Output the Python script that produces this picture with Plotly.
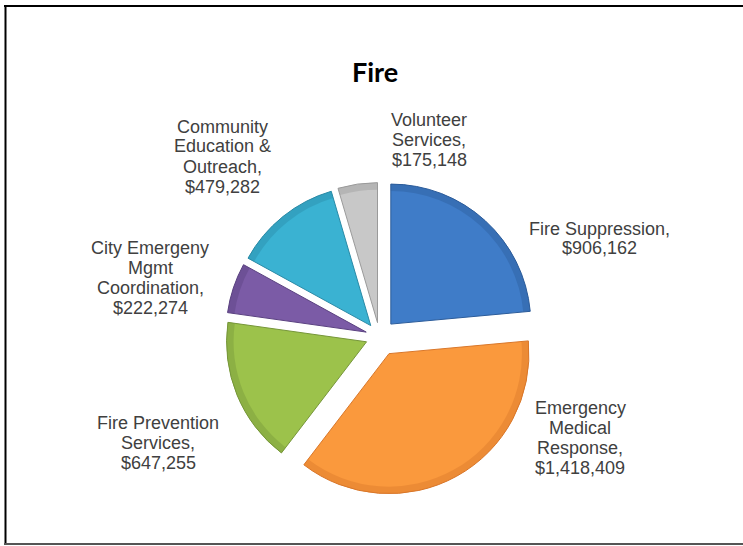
import plotly.graph_objects as go

# Fire department budget by program (line breaks mark label wrapping)
categories = [
    "Fire Suppression",
    "Emergency\nMedical\nResponse",
    "Fire Prevention\nServices",
    "City Emergeny\nMgmt\nCoordination",
    "Community\nEducation &\nOutreach",
    "Volunteer\nServices",
]
values = [906162, 1418409, 647255, 222274, 479282, 175148]

colors = ["#3F7CC8", "#FA993D", "#9CC24B", "#7B5BA6", "#3AB2D2", "#C8C8C8"]
rim_colors = ["#2C5C9A", "#D9772A", "#76963A", "#5A4180", "#2A8AA6", "#9A9A9A"]
pulls = [0.12, 0.14, 0.10, 0.10, 0.10, 0.10]

# label block centres (px) and layout constants
label_xy = [(599, 238.5), (580, 438), (158, 443), (150, 278), (222.5, 156.5), (429, 140)]
W, H = 743, 546
CX, CY, R = 379.5, 336.5, 140
LINE_H = 20

half = R * (1 + max(pulls))
domain_x = [(CX - half) / W, (CX + half) / W]
domain_y = [1 - (CY + half) / H, 1 - (CY - half) / H]

names = [c.replace("\n", " ") for c in categories]

fig = go.Figure()
fig.add_trace(go.Pie(
    labels=names, values=values, sort=False, direction="clockwise", rotation=0,
    pull=pulls, domain=dict(x=domain_x, y=domain_y),
    marker=dict(colors=colors, line=dict(color=rim_colors, width=1)),
    textinfo="none", hoverinfo="label+value", showlegend=False,
))
# thin darker outer rim for a bevelled look
fig.add_trace(go.Pie(
    labels=names, values=values, sort=False, direction="clockwise", rotation=0,
    pull=pulls, hole=0.95, domain=dict(x=domain_x, y=domain_y),
    marker=dict(colors=rim_colors, line=dict(width=0)),
    opacity=0.4, textinfo="none", hoverinfo="skip", showlegend=False,
))

annotations = []
for cat, val, (lx, ly) in zip(categories, values, label_xy):
    lines = cat.split("\n")
    lines[-1] += ","
    lines.append(f"${val:,}")
    n = len(lines)
    for i, txt in enumerate(lines):
        py = ly + (i - (n - 1) / 2) * LINE_H
        annotations.append(dict(
            x=lx / W, y=1 - py / H, xref="paper", yref="paper",
            text=txt, showarrow=False, xanchor="center", yanchor="middle",
            font=dict(family="Liberation Sans, Arial, sans-serif", size=18, color="#404040"),
        ))

annotations.append(dict(
    x=375 / W, y=1 - 72 / H, xref="paper", yref="paper", text="<b>Fire</b>",
    showarrow=False, xanchor="center", yanchor="middle",
    font=dict(family="Lato, Open Sans, sans-serif", size=27, color="#000000"),
))

shapes = [
    dict(type="line", xref="paper", yref="paper", x0=4 / W, x1=1, y0=1 - 6 / H, y1=1 - 6 / H,
         line=dict(color="#000000", width=2)),
    dict(type="line", xref="paper", yref="paper", x0=5.5 / W, x1=5.5 / W, y0=1 - 5 / H, y1=1 - 545 / H,
         line=dict(color="#000000", width=2)),
    dict(type="line", xref="paper", yref="paper", x0=4 / W, x1=1, y0=1 - 544 / H, y1=1 - 544 / H,
         line=dict(color="#555555", width=2)),
]

fig.update_layout(
    width=W, height=H, margin=dict(l=0, r=0, t=0, b=0),
    paper_bgcolor="#FFFFFF", plot_bgcolor="#FFFFFF",
    annotations=annotations, shapes=shapes,
)

fig.write_html("out.html")
